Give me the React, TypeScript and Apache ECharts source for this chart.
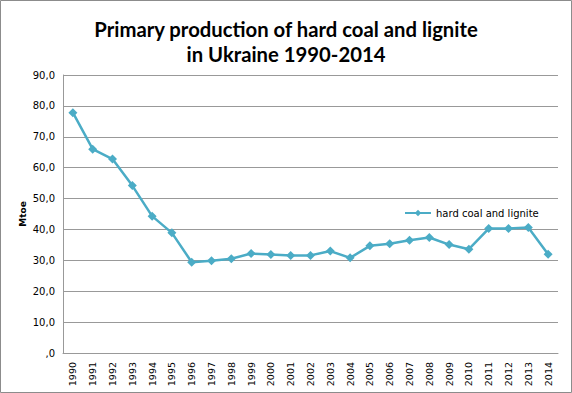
import React, { useEffect, useRef } from "react";
import * as echarts from "echarts";

const years = ["1990","1991","1992","1993","1994","1995","1996","1997","1998","1999","2000","2001","2002","2003","2004","2005","2006","2007","2008","2009","2010","2011","2012","2013","2014"];
const coal = [77.8, 66.0, 62.8, 54.2, 44.3, 38.9, 29.4, 29.9, 30.5, 32.2, 31.9, 31.6, 31.6, 33.0, 30.8, 34.7, 35.4, 36.5, 37.4, 35.1, 33.6, 40.3, 40.3, 40.6, 32.0];
const seriesName = "hard coal and lignite";
const titleText = "Primary production of hard coal and lignite\nin Ukraine 1990-2014";
const yTitle = "Mtoe";

export default function App() {
  const ref = useRef<HTMLDivElement>(null);
  useEffect(() => {
    document.body.style.margin = "0";
    const chart = echarts.init(ref.current!, null, { renderer: "svg" });
    chart.setOption({
      animation: false,
      backgroundColor: "#ffffff",
      title: {
        text: titleText,
        left: "center",
        top: 11,
        textStyle: { fontFamily: "Lato", fontWeight: "bold", fontSize: 20.3, color: "#000", lineHeight: 25 },
      },
      graphic: [
        { type: "rect", shape: { x: 0.5, y: 0.5, width: 571, height: 392 }, style: { fill: "none", stroke: "#8c8c8c", lineWidth: 1 }, silent: true },
        {
          type: "text",
          x: 23,
          y: 214,
          rotation: Math.PI / 2,
          style: { text: yTitle, fontFamily: "DejaVu Sans", fontWeight: "bold", fontSize: 9, fill: "#000", align: "center", verticalAlign: "middle" },
          silent: true,
        },
      ],
      legend: {
        left: 399,
        top: 203,
        itemWidth: 26,
        itemHeight: 8,
        itemGap: 4,
        textStyle: { fontFamily: "DejaVu Sans", fontSize: 10, color: "#000" },
        data: [seriesName],
      },
      grid: { left: 63, right: 14, top: 75, bottom: 40, containLabel: false },
      xAxis: {
        type: "category",
        data: years,
        boundaryGap: true,
        axisLine: { lineStyle: { color: "#999", width: 1 } },
        axisTick: { show: false },
        axisLabel: { rotate: 90, fontFamily: "DejaVu Sans", fontSize: 9.5, color: "#000", margin: 9, interval: 0 },
      },
      yAxis: {
        type: "value",
        min: 0,
        max: 90,
        interval: 10,
        axisLine: { show: true, lineStyle: { color: "#999", width: 1 } },
        axisTick: { show: false },
        splitLine: { lineStyle: { color: "#999", width: 1 } },
        axisLabel: {
          fontFamily: "DejaVu Sans",
          fontSize: 10,
          color: "#000",
          margin: 8,
          formatter: (v: number) => (v === 0 ? ",0" : v.toFixed(1).replace(".", ",")),
        },
      },
      series: [
        {
          name: seriesName,
          type: "line",
          data: coal,
          symbol: "diamond",
          symbolSize: 9,
          lineStyle: { color: "#4bacc6", width: 2.5 },
          itemStyle: { color: "#4bacc6" },
        },
      ],
    });
    return () => chart.dispose();
  }, []);
  return <div ref={ref} style={{ width: 572, height: 393 }} />;
}
